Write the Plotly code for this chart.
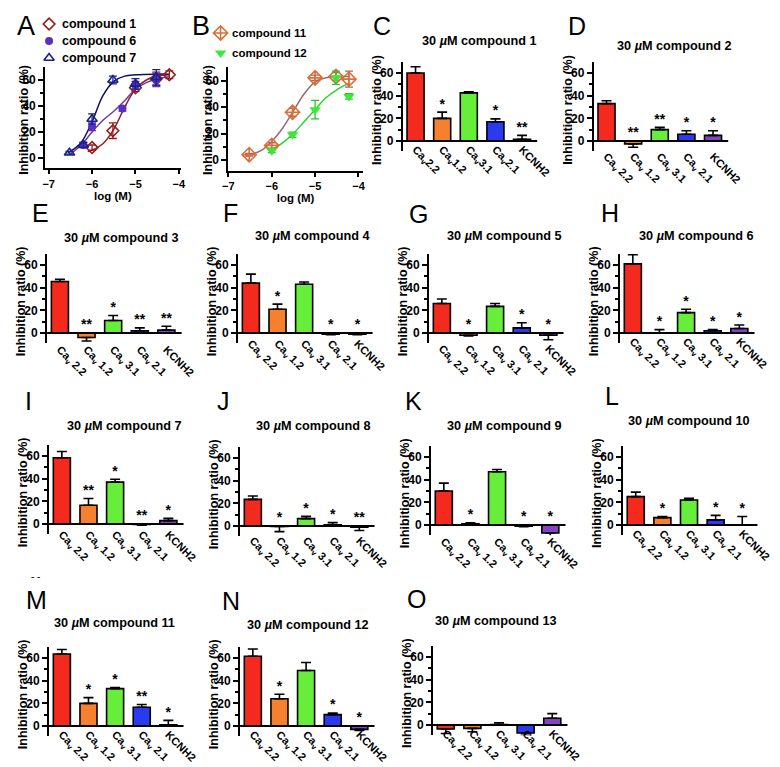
import math
import plotly.graph_objects as go

# ---------------- data ----------------
channels = ["Cav2.2", "Cav1.2", "Cav3.1", "Cav2.1", "KCNH2"]
channel_ticks = ["Ca<sub>v</sub> 2.2", "Ca<sub>v</sub> 1.2", "Ca<sub>v</sub> 3.1",
                 "Ca<sub>v</sub> 2.1", "KCNH2"]
channel_ticks_compact = ["Ca<sub>v</sub>2.2", "Ca<sub>v</sub>1.2", "Ca<sub>v</sub>3.1",
                         "Ca<sub>v</sub>2.1", "KCNH2"]

cpd1_mean = [60, 20, 42.5, 17, 1.5]
cpd1_err = [5.5, 5.5, 1, 2.5, 3.5]
cpd1_sig = ["", "*", "", "*", "**"]
cpd2_mean = [33, -2.5, 10, 6, 5]
cpd2_err = [2.5, 3, 2, 3, 4]
cpd2_sig = ["", "**", "**", "*", "*"]
cpd3_mean = [45.5, -4, 11, 2, 2.5]
cpd3_err = [2, 3, 4.5, 2.5, 3.5]
cpd3_sig = ["", "**", "*", "**", "**"]
cpd4_mean = [44, 21, 43, -1, -1]
cpd4_err = [8, 4.5, 2, 0.5, 0.5]
cpd4_sig = ["", "*", "", "*", "*"]
cpd5_mean = [26, -2, 23.5, 4.5, -2]
cpd5_err = [4, 0.5, 2.5, 4.5, 4]
cpd5_sig = ["", "*", "", "*", "*"]
cpd6_mean = [61, 0, 18, 2, 4]
cpd6_err = [8, 3, 3, 1, 3]
cpd6_sig = ["", "*", "*", "*", "*"]
cpd7_mean = [58.5, 16.5, 37, -0.5, 3]
cpd7_err = [5.5, 6, 2.5, 0.5, 2]
cpd7_sig = ["", "**", "*", "**", "*"]
cpd8_mean = [23.5, -0.5, 6.5, 1, -1]
cpd8_err = [3, 4.5, 2, 2, 3]
cpd8_sig = ["", "*", "*", "*", "**"]
cpd9_mean = [30, 1, 47, -1, -7]
cpd9_err = [7, 1, 2, 0.5, 4]
cpd9_sig = ["", "*", "", "*", "*"]
cpd10_mean = [25, 6.5, 22, 4.5, 0]
cpd10_err = [4, 1, 1.5, 4, 7.5]
cpd10_sig = ["", "*", "", "*", "*"]
cpd11_mean = [63.5, 20, 33, 16.5, 1]
cpd11_err = [4, 5, 1, 2.5, 4]
cpd11_sig = ["", "*", "*", "**", "*"]
cpd12_mean = [61.5, 24, 49, 10, -3]
cpd12_err = [6.5, 4, 7, 1.5, 1]
cpd12_sig = ["", "*", "", "*", "*"]
cpd13_mean = [-3.5, -3, 0.5, -7, 6]
cpd13_err = [4, 3, 1.5, 2, 4]
cpd13_sig = ["", "", "", "", ""]

# dose-response (panel A)
c1_logc = [-6.0, -5.52, -5.0, -4.52, -4.22]
c1_inh = [8, 21, 54, 61, 64]
c1_err = [2, 6, 3, 5, 3]
c6_logc = [-6.2, -6.0, -5.3, -5.0, -4.52]
c6_inh = [10, 24, 38, 56, 60]
c6_err = [2, 3, 2, 3, 5]
c7_logc = [-6.52, -6.2, -6.0, -5.52, -5.0, -4.52]
c7_inh = [4, 10, 30, 60, 57, 62]
c7_err = [1, 2, 4, 3, 4, 6]
c1_fit_x = [-6.1, -6.0, -5.75, -5.5, -5.25, -5.0, -4.75, -4.5, -4.22]
c1_fit_y = [5, 6, 11, 22, 39, 53, 60, 63, 64]
c6_fit_x = [-6.5, -6.25, -6.0, -5.75, -5.5, -5.25, -5.0, -4.75, -4.5, -4.22]
c6_fit_y = [3, 10, 20, 29, 36, 44, 53, 58, 61, 62.5]
c7_fit_x = [-6.55, -6.25, -6.0, -5.75, -5.5, -5.25, -5.0, -4.5, -4.22]
c7_fit_y = [4, 12, 28, 48, 59, 63, 64, 64.5, 64.5]

# dose-response (panel B)
c11_logc = [-6.52, -6.0, -5.52, -5.0, -4.52, -4.22]
c11_inh = [4, 11, 36, 62, 63, 61]
c11_err = [1, 2, 3, 2, 3, 6]
c12_logc = [-6.0, -5.52, -5.0, -4.52, -4.22]
c12_inh = [7, 19, 38, 62, 48]
c12_err = [1.5, 2, 7, 5, 2]
c11_fit_x = [-6.6, -6.25, -6.0, -5.75, -5.5, -5.25, -5.0, -4.75, -4.5, -4.22]
c11_fit_y = [3, 7, 14, 24, 37, 50, 59, 62, 63, 63]
c12_fit_x = [-6.0, -5.75, -5.5, -5.25, -5.0, -4.75, -4.5, -4.22]
c12_fit_y = [8, 13, 20, 29, 38, 47, 53, 58]

# legend entries
legend_a_names = ["compound 1", "compound 6", "compound 7"]
legend_b_names = ["compound 11", "compound 12"]

# ---------------- styles / layout ----------------
W, H = 780, 767
FONT = "Liberation Sans, Arial, sans-serif"
bar_colors = ["#F52A1E", "#F5802E", "#66EE3A", "#2A3AEE", "#8840C4"]
S = 1.133  # px per % unit in bar panels


def fx(p):
    return p / W


def fy(p):
    return 1 - p / H


fig = go.Figure()
layout = {}
annotations = []
shapes = []


def text_ann(txt, x, y, size, angle=0, xanchor="center", yanchor="middle", bold=True):
    annotations.append(dict(
        text=f"<b>{txt}</b>" if bold else txt, x=fx(x), y=fy(y), xref="paper", yref="paper",
        showarrow=False, textangle=angle, xanchor=xanchor, yanchor=yanchor,
        font=dict(size=size, family=FONT, color="black")))


def y_axis_style(rng, tickvals, minor_vals, dom, anchor):
    return dict(domain=dom, range=rng, tickvals=tickvals, showline=True, linewidth=2,
                linecolor="black", ticks="outside", ticklen=5, tickwidth=2, tickcolor="black",
                minor=dict(tickvals=minor_vals, ticks="outside", ticklen=3, tickwidth=1.5,
                           tickcolor="black"),
                showgrid=False, zeroline=False, anchor=anchor,
                tickfont=dict(size=12, family=FONT, color="black", weight="bold"))


panels = [
    # idx, mean, err, sig, ticks, axis_x, zero_y, title_cx, title_cy, letter, letter_x, letter_y
    (3, cpd1_mean, cpd1_err, cpd1_sig, channel_ticks_compact, 399, 133, 477, 33, "C", 378, 18, 1),
    (4, cpd2_mean, cpd2_err, cpd2_sig, channel_ticks, 595, 133, 677, 38, "D", 578, 18, 2),
    (5, cpd3_mean, cpd3_err, cpd3_sig, channel_ticks, 34, 325, 110, 230, "E", 27, 205, 3),
    (6, cpd4_mean, cpd4_err, cpd4_sig, channel_ticks, 230, 325, 306, 228, "F", 222, 205, 4),
    (7, cpd5_mean, cpd5_err, cpd5_sig, channel_ticks, 426, 325, 503, 228, "G", 415, 206, 5),
    (8, cpd6_mean, cpd6_err, cpd6_sig, channel_ticks, 622, 325, 700, 228, "H", 612, 205, 6),
    (9, cpd7_mean, cpd7_err, cpd7_sig, channel_ticks, 36, 516, 113, 418, "I", 15, 393, 7),
    (10, cpd8_mean, cpd8_err, cpd8_sig, channel_ticks, 232, 518, 307, 418, "J", 215, 393, 8),
    (11, cpd9_mean, cpd9_err, cpd9_sig, channel_ticks, 428, 517, 503, 418, "K", 410, 393, 9),
    (12, cpd10_mean, cpd10_err, cpd10_sig, channel_ticks, 625, 517, 693, 413, "L", 614, 388, 10),
    (13, cpd11_mean, cpd11_err, cpd11_sig, channel_ticks, 36, 718, 103, 615, "M", 23, 592, 11),
    (14, cpd12_mean, cpd12_err, cpd12_sig, channel_ticks, 232, 718, 302, 617, "N", 223, 593, 12),
    (15, cpd13_mean, cpd13_err, cpd13_sig, channel_ticks, 430, 717, 495, 613, "O", 413, 591, 13),
]

for (k, mean, err, sig, ticks, ax_x, zero_y, tcx, tcy, letter, lx, ly, num) in panels:
    xa, ya = f"x{k}", f"y{k}"
    up = [e if m >= 0 else 0 for m, e in zip(mean, err)]
    dn = [e if m < 0 else 0 for m, e in zip(mean, err)]
    fig.add_trace(go.Bar(
        x=channels, y=mean, width=0.64, xaxis=xa, yaxis=ya, showlegend=False,
        marker=dict(color=bar_colors, line=dict(color="black", width=1.6)),
        error_y=dict(type="data", symmetric=False, array=up, arrayminus=dn,
                     color="black", thickness=1.6, width=5)))
    star_y = [max(m, 0) + u for m, u in zip(mean, up)]
    fig.add_trace(go.Scatter(
        x=channels, y=star_y, text=sig, mode="text", textposition="top center",
        xaxis=xa, yaxis=ya, showlegend=False, cliponaxis=False,
        textfont=dict(size=14, family=FONT, color="black", weight="bold")))
    top_px = zero_y - 70 * S
    bot_px = zero_y + 9 * S
    lowest = min(0, min(m - d for m, d in zip(mean, dn)))
    max_shift = 0 if zero_y > 700 else 8   # bottom row has no room below
    standoff = -11 + min(int(math.ceil(-lowest * S)), max_shift)
    layout[f"xaxis{k}"] = dict(
        domain=[fx(ax_x), fx(ax_x + 138)], type="category", range=[-0.48, 4.57],
        tickvals=channels, ticktext=ticks, tickangle=45, ticks="", showline=False,
        showgrid=False, zeroline=False, anchor=ya, ticklabelstandoff=standoff,
        tickfont=dict(size=11, family=FONT, color="black", weight="bold"))
    layout[f"yaxis{k}"] = y_axis_style([-9, 70], [0, 20, 40, 60], [10, 30, 50],
                                       [fy(bot_px), fy(top_px)], xa)
    shapes.append(dict(type="line", xref=f"{xa} domain", yref=ya, x0=0, x1=1, y0=0, y1=0,
                       line=dict(color="black", width=2)))
    text_ann(f"30 <i>µ</i>M compound {num}", tcx, tcy, 12.7)
    text_ann("Inhibition ratio (%)", ax_x - 26, (top_px + bot_px) / 2 + 3, 12.5, angle=-90)
    text_ann(letter, lx, ly, 25, bold=False)


def dr_x_axis(dom_l, dom_r, rng, anchor):
    return dict(domain=[fx(dom_l), fx(dom_r)], range=rng,
                tickvals=[-7, -6, -5, -4], showline=True, linewidth=2, linecolor="black",
                ticks="outside", ticklen=4, tickwidth=2, tickcolor="black",
                showgrid=False, zeroline=False, anchor=anchor,
                tickfont=dict(size=11, family=FONT, color="black", weight="bold"),
                title=dict(text="log (M)", standoff=2,
                           font=dict(size=11.5, family=FONT, color="black", weight="bold")))


# ---------------- panel A ----------------
SA = 1.3
A_ax, A_zero = 32, 150
layout["xaxis"] = dr_x_axis(A_ax, A_ax + 139, [-7.08, -3.96], "y")
layout["yaxis"] = y_axis_style([-8, 70], [0, 20, 40, 60], [10, 30, 50],
                               [fy(A_zero + 8 * SA), fy(A_zero - 70 * SA)], "x")
text_ann("Inhibition ratio (%)", A_ax - 22, 112, 12.5, angle=-90)
text_ann("A", 12, 18, 27, bold=False)

fig.add_trace(go.Scatter(x=c1_fit_x, y=c1_fit_y, mode="lines", line=dict(color="#8B2323", width=1.5, shape="spline"),
                         showlegend=False, xaxis="x", yaxis="y"))
fig.add_trace(go.Scatter(x=c6_fit_x, y=c6_fit_y, mode="lines", line=dict(color="#6A3AB0", width=1.5, shape="spline"),
                         showlegend=False, xaxis="x", yaxis="y"))
fig.add_trace(go.Scatter(x=c7_fit_x, y=c7_fit_y, mode="lines", line=dict(color="#101060", width=1.5, shape="spline"),
                         showlegend=False, xaxis="x", yaxis="y"))

a_marker_styles = [
    dict(symbol="diamond-open", size=9, color="#9A1A1A", line=dict(width=1.6, color="#9A1A1A")),
    dict(symbol="circle", size=8, color="#5A30C0", line=dict(width=0, color="#5A30C0")),
    dict(symbol="triangle-up-open", size=9, color="#1A2090", line=dict(width=1.6, color="#1A2090")),
]
for (xs, ys, es, st) in [(c1_logc, c1_inh, c1_err, a_marker_styles[0]),
                         (c6_logc, c6_inh, c6_err, a_marker_styles[1]),
                         (c7_logc, c7_inh, c7_err, a_marker_styles[2])]:
    fig.add_trace(go.Scatter(x=xs, y=ys, mode="markers", showlegend=False, marker=st,
                             error_y=dict(type="data", array=es, color=st["color"], thickness=1.3, width=4),
                             xaxis="x", yaxis="y"))

# ---------------- panel B ----------------
SB = 1.325
B_ax, B_zero = 220, 152
layout["xaxis2"] = dr_x_axis(B_ax, B_ax + 138, [-7.0, -3.9], "y2")
layout["yaxis2"] = y_axis_style([-8, 70], [0, 20, 40, 60], [10, 30, 50],
                                [fy(B_zero + 8 * SB), fy(B_zero - 70 * SB)], "x2")
text_ann("Inhibition ratio (%)", B_ax - 21, 112, 12.5, angle=-90)
text_ann("B", 192, 18, 27, bold=False)

fig.add_trace(go.Scatter(x=c11_fit_x, y=c11_fit_y, mode="lines", line=dict(color="#9A6A70", width=1.5, shape="spline"),
                         showlegend=False, xaxis="x2", yaxis="y2"))
fig.add_trace(go.Scatter(x=c12_fit_x, y=c12_fit_y, mode="lines", line=dict(color="#30D030", width=1.5, shape="spline"),
                         showlegend=False, xaxis="x2", yaxis="y2"))
b_marker_styles = [
    dict(symbol="diamond-cross-open", size=11, color="#D8703A", line=dict(width=1.6, color="#D8703A")),
    dict(symbol="triangle-down", size=10, color="#3AE83A", line=dict(width=0, color="#3AE83A")),
]
b_err_colors = ["#B06060", "#30C030"]
for (xs, ys, es, st, ec) in [(c11_logc, c11_inh, c11_err, b_marker_styles[0], b_err_colors[0]),
                             (c12_logc, c12_inh, c12_err, b_marker_styles[1], b_err_colors[1])]:
    fig.add_trace(go.Scatter(x=xs, y=ys, mode="markers", showlegend=False, marker=st,
                             error_y=dict(type="data", array=es, color=ec, thickness=1.3, width=4),
                             xaxis="x2", yaxis="y2"))

# ---------------- legends (keys on hidden axes, one row per entry) ----------------
layout["xaxis16"] = dict(domain=[fx(26), fx(46)], range=[-1, 1], visible=False, anchor="y16")
layout["yaxis16"] = dict(domain=[fy(58.5), fy(7.5)], range=[2.5, -0.5], visible=False, anchor="x16")
for row, (name, st) in enumerate(zip(legend_a_names, a_marker_styles)):
    fig.add_trace(go.Scatter(x=[0], y=[row], mode="markers", marker=st, showlegend=False,
                             xaxis="x16", yaxis="y16", cliponaxis=False, hoverinfo="skip"))
    text_ann(name, 47, 16 + 17 * row, 12.5, xanchor="left")

layout["xaxis17"] = dict(domain=[fx(202), fx(222)], range=[-1, 1], visible=False, anchor="y17")
layout["yaxis17"] = dict(domain=[fy(55), fy(15)], range=[1.5, -0.5], visible=False, anchor="x17")
for row, (name, st) in enumerate(zip(legend_b_names, b_marker_styles)):
    fig.add_trace(go.Scatter(x=[0], y=[row], mode="markers", marker=st, showlegend=False,
                             xaxis="x17", yaxis="y17", cliponaxis=False, hoverinfo="skip"))
    text_ann(name, 222, 25 + 20 * row, 11.5, xanchor="left")

text_ann("- -", 22, 568, 10, bold=False)

fig.update_layout(
    width=W, height=H, margin=dict(l=0, r=0, t=0, b=0),
    paper_bgcolor="white", plot_bgcolor="white",
    font=dict(family=FONT, color="black"),
    annotations=annotations, shapes=shapes, barmode="overlay", showlegend=False,
    **layout)

fig.write_html("out.html")
